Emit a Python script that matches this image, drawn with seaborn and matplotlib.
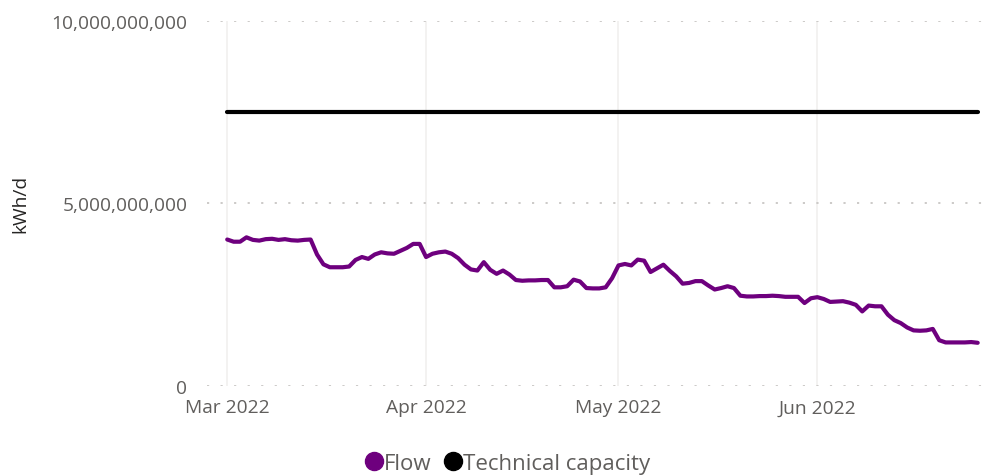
import pandas as pd
import numpy as np
import matplotlib.pyplot as plt
import matplotlib.dates as mdates
from matplotlib.lines import Line2D
from matplotlib.ticker import FuncFormatter
import seaborn as sns

# daily flow from 1 Mar 2022, kWh/d (in billions)
start_date = "2022-03-01"
flow_bn = [
    4.01, 3.95, 3.95, 4.07, 4.00, 3.98, 4.02, 4.03, 4.00, 4.02,
    3.99, 3.98, 4.00, 4.01, 3.60, 3.33, 3.25, 3.25, 3.25, 3.27,
    3.45, 3.53, 3.48, 3.60, 3.66, 3.63, 3.62, 3.70, 3.78, 3.89,
    3.89, 3.53, 3.62, 3.66, 3.68, 3.62, 3.50, 3.32, 3.19, 3.16,
    3.39, 3.18, 3.07, 3.16, 3.05, 2.90, 2.88, 2.89, 2.89, 2.90,
    2.90, 2.70, 2.70, 2.73, 2.91, 2.86, 2.68, 2.67, 2.67, 2.70,
    2.95, 3.30, 3.34, 3.30, 3.46, 3.43, 3.12, 3.22, 3.32, 3.15,
    3.00, 2.80, 2.82, 2.87, 2.87, 2.75, 2.64, 2.68, 2.73, 2.68,
    2.47, 2.45, 2.45, 2.46, 2.46, 2.47, 2.46, 2.44, 2.44, 2.44,
    2.27, 2.40, 2.43, 2.38, 2.30, 2.31, 2.32, 2.28, 2.22, 2.04,
    2.20, 2.18, 2.18, 1.95, 1.80, 1.72, 1.60, 1.52, 1.51, 1.52,
    1.56, 1.25, 1.19, 1.19, 1.19, 1.19, 1.20, 1.18,
]
capacity_bn = 7.5
series_names = ["Flow", "Technical capacity"]
series_colors = ["#6E007E", "#000000"]
y_ticks = [0, 5e9, 10e9]

dates = pd.date_range(start_date, periods=len(flow_bn), freq="D")
flow = np.array(flow_bn) * 1e9
capacity = np.full(len(dates), capacity_bn * 1e9)

df = pd.DataFrame({
    "date": np.concatenate([dates, dates]),
    "value": np.concatenate([flow, capacity]),
    "series": [series_names[0]] * len(dates) + [series_names[1]] * len(dates),
})

sns.set_style("white")
plt.rcParams["font.family"] = ["Open Sans", "DejaVu Sans"]

fig = plt.figure(figsize=(9.89, 4.77), dpi=100)
ax = fig.add_axes([0.209, 0.189, 0.788, 0.765])

palette = dict(zip(series_names, series_colors))
sns.lineplot(data=df, x="date", y="value", hue="series", palette=palette,
             linewidth=3.0, legend=False, ax=ax, zorder=3)

ax.set_ylim(0, 10e9)
ax.set_xlim(dates[0] - pd.Timedelta(days=3.2), dates[-1] + pd.Timedelta(days=1.3))

# gridlines: dotted horizontals, faint solid verticals at month starts
ax.set_yticks(y_ticks)
for v in y_ticks:
    ax.axhline(v, color="#C8C6C4", linewidth=1.3, linestyle=(0, (1.2, 6.3)), zorder=1)
ax.xaxis.set_major_locator(mdates.MonthLocator())
ax.xaxis.set_major_formatter(mdates.DateFormatter("%b %Y"))
ax.grid(axis="x", color="#F1F0EF", linewidth=1.2)
ax.grid(axis="y", visible=False)

ax.yaxis.set_major_formatter(FuncFormatter(lambda v, p: f"{v:,.0f}"))
ax.tick_params(axis="both", length=0, labelsize=13.8, colors="#605E5C")
ax.tick_params(axis="y", pad=14)
ax.tick_params(axis="x", pad=9)

for s in ax.spines.values():
    s.set_visible(False)

ax.set_xlabel("")
ax.set_ylabel("kWh/d", fontsize=13.8, color="#252423")
ax.yaxis.set_label_coords(-0.228, 0.5)

handles = [Line2D([], [], linestyle="", marker="o", markersize=13, color=c)
           for c in series_colors]
fig.legend(handles, series_names, loc="center", bbox_to_anchor=(0.513, 0.027),
           ncol=2, frameon=False, fontsize=16, labelcolor="#605E5C",
           handletextpad=0.0, columnspacing=0.55, handlelength=0.85)

fig.savefig("out.png", dpi=100)
